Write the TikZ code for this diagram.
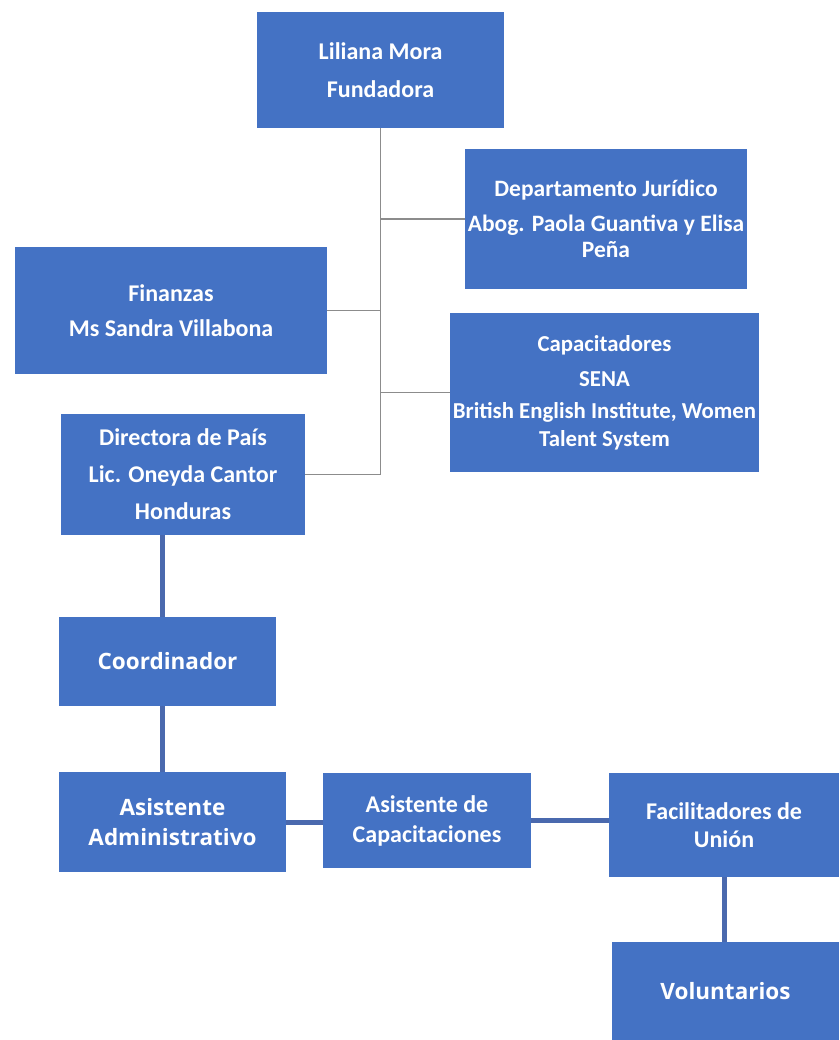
\documentclass[tikz,border=0pt]{standalone}
\usepackage{fontspec}
\setmainfont{Carlito}
\newfontfamily\widefont{Open Sans}
\definecolor{boxblue}{HTML}{4472C4}
\definecolor{thinline}{HTML}{8C8C8C}
\definecolor{thickline}{HTML}{4A69AE}
\begin{document}
\begin{tikzpicture}[x=1pt,y=-1pt,
  orgbox/.style={fill=boxblue, text=white, inner sep=0pt, outer sep=0pt, align=center,
    font=\bfseries\fontsize{24}{28}\selectfont},
  widebox/.style={orgbox, font=\widefont\bfseries\fontsize{22.5}{30}\selectfont},
  thin link/.style={draw=thinline, line width=1.5pt},
  thick link/.style={draw=thickline, line width=5pt}]
\useasboundingbox[fill=white] (0,0) rectangle (839,1040);

\node[orgbox, minimum width=247pt, minimum height=116pt] (lil) at (380.5,70)
  {Liliana Mora\\[10pt]Fundadora};
\node[orgbox, minimum width=282pt, minimum height=140pt, font=\bfseries\fontsize{23.5}{26}\selectfont] (jur) at (606,219)
  {Departamento Jurídico\\[9pt]Abog. Paola Guantiva y Elisa\\Peña};
\node[orgbox, minimum width=312pt, minimum height=127pt] (fin) at (171,310.5)
  {Finanzas\\[7pt]Ms Sandra Villabona};
\node[orgbox, minimum width=309pt, minimum height=159pt, font=\bfseries\fontsize{22.8}{28}\selectfont] (cap) at (604.5,392.5)
  {Capacitadores\\[7pt]SENA\\[4pt]British English Institute, Women\\Talent System};
\node[orgbox, minimum width=244pt, minimum height=121pt] (dir) at (183,474.5)
  {Directora de País\\[9pt]Lic. Oneyda Cantor\\[9pt]Honduras};
\node[widebox, minimum width=217pt, minimum height=89pt] (coo) at (167.5,661.5)
  {Coordinador};
\node[widebox, minimum width=227pt, minimum height=100pt] (asa) at (172.5,822)
  {Asistente\\Administrativo};
\node[orgbox, minimum width=208pt, minimum height=95pt, font=\bfseries\fontsize{24}{30}\selectfont] (asc) at (427,820.5)
  {Asistente de\\Capacitaciones};
\node[orgbox, minimum width=230pt, minimum height=104pt] (fac) at (724,825)
  {Facilitadores de\\Unión};
\node[widebox, minimum width=227pt, minimum height=98pt] (vol) at (725.5,991)
  {Voluntarios};

% thin tree
\draw[thin link] (lil.south) -- (lil.south |- dir.east);
\draw[thin link] (jur.west) -- (jur.west -| lil.south);
\draw[thin link] (fin.east) -- (fin.east -| lil.south);
\draw[thin link] (cap.west) -- (cap.west -| lil.south);
\draw[thin link] (dir.east) -- (dir.east -| lil.south);

% thick links
\coordinate (vx) at (162,0);
\draw[thick link] (vx |- dir.south) -- (vx |- coo.north);
\draw[thick link] (vx |- coo.south) -- (vx |- asa.north);
\draw[thick link] (asa.east) -- (asa.east -| asc.west);
\draw[thick link] (asc.east) -- (asc.east -| fac.west);
\draw[thick link] (fac.south) -- (fac.south |- vol.north);
\end{tikzpicture}
\end{document}
